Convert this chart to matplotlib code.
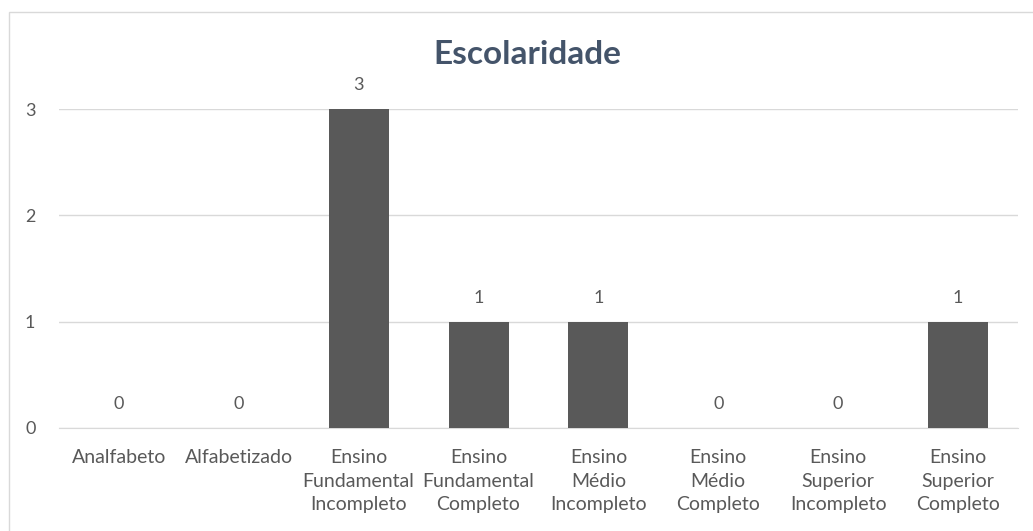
import matplotlib.pyplot as plt
from matplotlib.patches import Rectangle

categorias = ['Analfabeto', 'Alfabetizado', 'Ensino\nFundamental\nIncompleto',
              'Ensino\nFundamental\nCompleto', 'Ensino\nMédio\nIncompleto',
              'Ensino\nMédio\nCompleto', 'Ensino\nSuperior\nIncompleto',
              'Ensino\nSuperior\nCompleto']
valores = [0, 0, 3, 1, 1, 0, 0, 1]
y_ticks = [0, 1, 2, 3]

plt.rcParams['font.family'] = ['Lato', 'DejaVu Sans']
texto = '#595959'

fig = plt.figure(figsize=(10.33, 5.31), dpi=100)
fig.patches.append(Rectangle((9 / 1033, -0.1), 1.2, 1 - 12 / 531 + 0.1,
                             transform=fig.transFigure, fill=False,
                             edgecolor='#D9D9D9', linewidth=1))
ax = fig.add_axes([59 / 1033, 1 - 428 / 531, 959 / 1033, 319 / 531])

x = range(len(categorias))
barras = ax.bar(x, valores, width=0.5, color='#595959', zorder=3)
for xi, v in zip(x, valores):
    ax.annotate(str(v), (xi, v), xytext=(0, 17), textcoords='offset points',
                ha='center', va='center', fontsize=13, color=texto)

ax.set_xlim(-0.5, len(categorias) - 0.5)
ax.set_ylim(0, 3)
ax.set_yticks(y_ticks)
ax.set_xticks(list(x))
ax.set_xticklabels(categorias, fontsize=14, color=texto, linespacing=1.48)
ax.tick_params(axis='both', length=0, labelsize=13, colors=texto)
ax.tick_params(axis='x', labelsize=14, pad=15)
ax.tick_params(axis='y', pad=17)
ax.grid(axis='y', color='#D9D9D9', linewidth=1, zorder=0)
for s in ['top', 'right', 'left']:
    ax.spines[s].set_visible(False)
ax.spines['bottom'].set_color('#D9D9D9')

fig.text(527 / 1033, 1 - 55 / 531, 'Escolaridade', ha='center', va='center',
         fontsize=24, fontweight='bold', color='#44546A')

fig.savefig('out.png', dpi=100)
